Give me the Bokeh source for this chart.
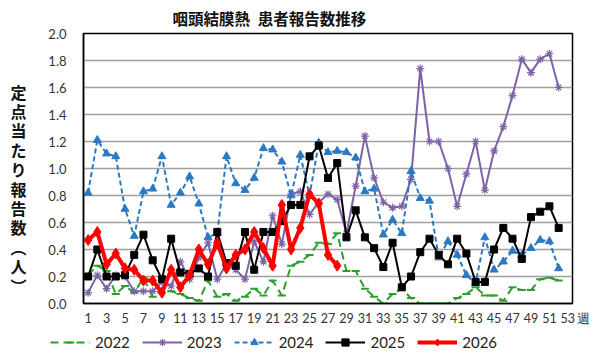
from bokeh.plotting import figure
from bokeh.layouts import column, row
from bokeh.models import (Range1d, FixedTicker, Legend, LegendItem,
                          PrintfTickFormatter, LinearAxis)
from bokeh.embed import file_html
from bokeh.resources import INLINE

# Weekly reported cases per sentinel site (pharyngoconjunctival fever)
weeks = list(range(1, 53))

y2022 = [0.21, 0.28, 0.24, 0.07, 0.13, 0.08, 0.19, 0.05, 0.11, 0.09,
         0.07, 0.04, 0.02, 0.17, 0.05, 0.07, 0.02, 0.05, 0.11, 0.06,
         0.17, 0.06, 0.28, 0.31, 0.36, 0.45, 0.44, 0.52, 0.24, 0.24,
         0.11, 0.05, 0.00, 0.07, 0.11, 0.04, 0.00, 0.00, 0.00, 0.00,
         0.04, 0.07, 0.12, 0.06, 0.06, 0.02, 0.12, 0.10, 0.10, 0.18,
         0.19, 0.17]

y2023 = [0.08, 0.21, 0.11, 0.21, 0.20, 0.09, 0.09, 0.09, 0.16, 0.13,
         0.31, 0.18, 0.34, 0.45, 0.18, 0.29, 0.25, 0.18, 0.46, 0.31,
         0.65, 0.44, 0.81, 0.83, 0.66, 0.75, 0.81, 0.77, 0.52, 0.87,
         1.24, 0.93, 0.75, 0.71, 0.72, 0.92, 1.74, 1.20, 1.20, 1.00,
         0.72, 0.96, 1.20, 0.84, 1.13, 1.31, 1.54, 1.81, 1.71, 1.81,
         1.85, 1.60]

y2024 = [0.82, 1.21, 1.11, 1.09, 0.70, 0.50, 0.83, 0.85, 1.09, 0.73,
         0.82, 0.94, 0.74, 0.49, 0.52, 1.09, 0.89, 0.84, 0.93, 1.15,
         1.14, 1.05, 0.80, 1.10, 0.80, 1.19, 1.12, 1.13, 1.12, 1.08,
         0.83, 0.85, 0.51, 0.62, 0.52, 0.98, 0.78, 0.76, 0.34, 0.46,
         0.36, 0.21, 0.15, 0.49, 0.25, 0.31, 0.39, 0.36, 0.41, 0.47,
         0.46, 0.26]

y2025 = [0.20, 0.40, 0.20, 0.20, 0.21, 0.36, 0.51, 0.32, 0.18, 0.48,
         0.23, 0.22, 0.26, 0.20, 0.53, 0.30, 0.28, 0.53, 0.25, 0.53,
         0.53, 0.61, 0.73, 0.73, 1.09, 1.17, 0.93, 1.04, 0.49, 0.69,
         0.49, 0.41, 0.27, 0.45, 0.12, 0.20, 0.38, 0.48, 0.36, 0.29,
         0.48, 0.37, 0.16, 0.16, 0.40, 0.56, 0.48, 0.33, 0.64, 0.68,
         0.72, 0.56]

y2026 = [0.47, 0.53, 0.29, 0.37, 0.26, 0.25, 0.17, 0.17, 0.08, 0.25,
         0.12, 0.21, 0.40, 0.29, 0.45, 0.26, 0.36, 0.40, 0.53, 0.41,
         0.28, 0.73, 0.40, 0.56, 0.81, 0.74, 0.36, 0.28]

x_ticks = list(range(1, 54, 2))
y_ticks = [0.0, 0.2, 0.4, 0.6, 0.8, 1.0, 1.2, 1.4, 1.6, 1.8, 2.0]

title_text = "咽頭結膜熱\u2002患者報告数推移"
ylabel_text = "定点当たり報告数︵人︶"
week_unit = "週"
series_names = ["2022", "2023", "2024", "2025", "2026"]

JP = "Noto Sans CJK JP"
NUM = "Lato"

chart = figure(width=600, height=330, output_backend="svg", toolbar_location=None,
               x_range=Range1d(0.5, 53.5), y_range=Range1d(0, 2.0))
chart.min_border_left = 83
chart.min_border_right = 28
chart.min_border_top = 33
chart.min_border_bottom = 27
chart.outline_line_color = "black"
chart.outline_line_width = 1.5
chart.background_fill_color = "white"
chart.border_fill_color = "white"

# Title, placed over the left-centre of the chart
chart.title.text = title_text
chart.title.align = "left"
chart.title.offset = 89
chart.title.text_font = JP
chart.title.text_font_style = "bold"
chart.title.text_font_size = "15.5px"
chart.title.text_color = "#111111"
chart.title.standoff = 9

chart.xgrid.grid_line_color = None
chart.ygrid.grid_line_color = "#a0a0a0"
chart.ygrid.grid_line_width = 1.5
chart.ygrid.ticker = FixedTicker(ticks=y_ticks)

chart.yaxis.ticker = FixedTicker(ticks=y_ticks)
chart.yaxis.formatter = PrintfTickFormatter(format="%.1f")
chart.xaxis.ticker = FixedTicker(ticks=x_ticks)
# last week label carries the unit; leading blank keeps the number centred
chart.xaxis.major_label_overrides = {53: "\u3000\u200953\u2009" + week_unit}

for ax in (chart.xaxis, chart.yaxis):
    ax.axis_line_color = "black"
    ax.axis_line_width = 1.5
    ax.major_tick_line_color = None
    ax.minor_tick_line_color = None
    ax.major_tick_out = 0
    ax.major_tick_in = 0
    ax.major_label_text_font = NUM
    ax.major_label_text_font_size = "13px"
    ax.major_label_text_color = "#333333"
chart.yaxis.major_label_standoff = 17
chart.xaxis.major_label_standoff = 7
chart.xaxis.major_label_text_font_size = "12.5px"

# Upright, top-to-bottom y caption: one character per slot on a bare axis
cap_chars = list(ylabel_text)
cap_pitch = 19.4
cap_top = 212
chart.extra_y_ranges = {"caption": Range1d(0, 270)}
cap_pos = [cap_top - i * cap_pitch for i in range(len(cap_chars))]
cap_axis = LinearAxis(y_range_name="caption",
                      ticker=FixedTicker(ticks=cap_pos),
                      major_label_overrides={v: c for v, c in zip(cap_pos, cap_chars)})
cap_axis.axis_line_color = None
cap_axis.major_tick_line_color = None
cap_axis.minor_tick_line_color = None
cap_axis.major_tick_out = 0
cap_axis.major_tick_in = 0
cap_axis.major_label_standoff = 19
cap_axis.major_label_text_font = JP
cap_axis.major_label_text_font_style = "bold"
cap_axis.major_label_text_font_size = "16px"
cap_axis.major_label_text_color = "#111111"
chart.add_layout(cap_axis, "left")

green = "#2f9e2f"
purple = "#7d62a8"
blue = "#2b79c2"
black = "#000000"
red = "#ff0000"

styles = [
    dict(color=green, width=2, dash="8 5", marker="dash", size=8, mlw=2),
    dict(color=purple, width=2, dash="solid", marker="asterisk", size=8, mlw=1.2),
    dict(color=blue, width=2, dash="5 3", marker="triangle", size=8, mlw=1),
    dict(color=black, width=2, dash="solid", marker="square", size=7, mlw=1),
    dict(color=red, width=4, dash="solid", marker="diamond", size=11, mlw=1),
]
series = [y2022, y2023, y2024, y2025, y2026]


def draw(fig, xs, ys, st):
    ln = fig.line(xs, ys, line_color=st["color"], line_width=st["width"],
                  line_dash=st["dash"])
    mk = fig.scatter(xs, ys, marker=st["marker"], size=st["size"],
                     fill_color=st["color"], line_color=st["color"],
                     line_width=st["mlw"])
    return ln, mk


for ys, st in zip(series, styles):
    draw(chart, weeks[:len(ys)], ys, st)

# Legend strip under the chart; its proxy renderers sit outside the view
leg_fig = figure(width=600, height=31, output_backend="svg", toolbar_location=None,
                 x_range=Range1d(10, 11), y_range=Range1d(10, 11),
                 x_axis_type=None, y_axis_type=None)
leg_fig.min_border = 0
leg_fig.outline_line_color = None
leg_fig.grid.visible = False
items = []
for name, st in zip(series_names, styles):
    ln, mk = draw(leg_fig, [0], [0], st)
    items.append(LegendItem(label=name, renderers=[ln, mk]))
legend = Legend(items=items, orientation="horizontal", location=(50, 10))
legend.border_line_color = None
legend.background_fill_alpha = 0
legend.padding = 0
legend.margin = 0
legend.spacing = 12
legend.glyph_width = 40
legend.glyph_height = 18
legend.label_standoff = 5
legend.label_text_font = NUM
legend.label_text_font_size = "15px"
legend.label_text_color = "#222222"
leg_fig.add_layout(legend, "center")

p = column(chart, row(leg_fig, spacing=0), spacing=0)

open("out.html", "w").write(file_html(p, INLINE))
